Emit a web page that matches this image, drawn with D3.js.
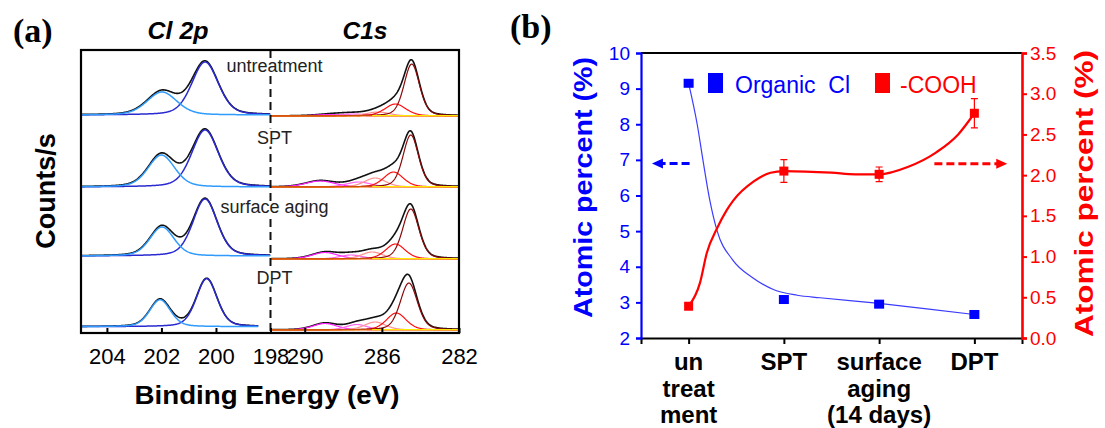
<!DOCTYPE html>
<html lang="en">
<head>
<meta charset="UTF-8">
<title>XPS Cl 2p / C1s and atomic percent</title>
<script src="https://d3js.org/d3.v7.min.js"></script>
<style>
  body { margin: 0; background: #fff; }
  svg { display: block; font-family: "Liberation Sans", Arial, sans-serif; }
</style>
</head>
<body>
<svg width="1105" height="428"></svg>
<script>
// ---------- panel (a): fitted peaks, [centre (eV), height (a.u.), fwhm (eV)] ----------
var samples = ["untreatment", "SPT", "surface aging", "DPT"];
var clOffset = [218, 146, 77, 6.3];   // stacking offset of each spectrum (Cl 2p)
var cOffset  = [217, 146, 74, 3];     // stacking offset of each spectrum (C1s)
var clEnd    = [198, 198, 198, 198.45];
var cl2p32 = [[200.40, 53, 1.15], [200.40, 57, 1.15], [200.40, 57, 1.05], [200.34, 48, 0.9]];
var cl2p12 = [[201.98, 23, 1.3],  [202.00, 32, 1.15], [201.98, 29, 1.05], [202.05, 27, 0.9]];
var c1sCC   = [[284.45, 52, 0.95], [284.50, 52, 0.95], [284.50, 50, 1.0], [284.60, 47, 1.05]];
var c1sCO   = [[285.30, 12, 1.3],  [285.40, 15, 1.2],  [285.30, 15, 1.2], [285.25, 17, 1.2]];
var c1sCOC  = [[286.20, 4, 1.4],   [286.35, 9, 1.3],   [286.50, 7, 1.3],  [286.35, 8, 1.3]];
var c1sCOO  = [[287.50, 2, 1.8],   [287.20, 5, 1.5],   [287.60, 4, 1.4],  [287.30, 5.5, 1.3]];
var c1sCOOH = [[288.60, 1.5, 2.0], [289.20, 6, 1.8],   [288.95, 6.5, 1.6], [288.95, 6.5, 1.5]];
var clTicks = [204, 202, 200, 198];
var cTicks = [290, 286, 282];

// ---------- panel (b) ----------
var categories = [["un", "treat", "ment"], ["SPT"], ["surface", "aging", "(14 days)"], ["DPT"]];
var organicCl = [9.15, 3.08, 2.95, 2.66];
var cooh = [0.39, 2.05, 2.01, 2.76];
var coohErr = [0, 0.14, 0.09, 0.18];
// drawn trend lines as [category position, value]
var clTrend = [[1, 9.15], [1.09, 8.0], [1.15, 7.0], [1.22, 5.9], [1.3, 5.0], [1.46, 4.2], [1.68, 3.68],
               [1.89, 3.36], [2.14, 3.2], [2.38, 3.13], [3, 2.97], [3.5, 2.82], [4, 2.66]];
var coohTrend = [[1, 0.39], [1.12, 0.68], [1.19, 1.04], [1.3, 1.35], [1.4, 1.57], [1.47, 1.69],
                 [1.68, 1.92], [1.86, 2.03], [2, 2.05], [2.5, 2.03], [2.75, 2.01], [3, 2.01],
                 [3.3, 2.1], [3.6, 2.28], [3.83, 2.5], [4, 2.76]];
var leftTicks = d3.range(2, 11, 1);
var rightTicks = d3.range(0, 3.51, 0.5);

var svg = d3.select("svg");
svg.append("rect").attr("width", 1105).attr("height", 428).attr("fill", "#fff");

// pseudo-Voigt line shape for a fitted component
function peak(e, p) {
  var d = (e - p[0]) / p[2];
  return p[1] * (0.3 / (1 + 4 * d * d) + 0.7 * Math.exp(-4 * Math.LN2 * d * d));
}

// ================= panel (a) =================
var xCl = d3.scaleLinear().domain([204.95, 198]).range([81, 270.5]);
var xC = d3.scaleLinear().domain([291.8, 282]).range([270, 459]);
var yA = d3.scaleLinear().domain([0, 283]).range([333, 50]);

var gA = svg.append("g");

samples.forEach(function(s, i) {
  // Cl 2p
  var eCl = d3.range(204.95, clEnd[i] - 0.001, -0.02);
  var lineCl = d3.line().x(function(d) { return xCl(d[0]); }).y(function(d) { return yA(clOffset[i] + d[1]); });
  var env = eCl.map(function(e) { return [e, peak(e, cl2p32[i]) + peak(e, cl2p12[i])]; });
  gA.append("path").attr("d", lineCl(env)).attr("fill", "none").attr("stroke", "#111").attr("stroke-width", 1.6);
  gA.append("path").attr("d", lineCl(eCl.map(function(e) { return [e, peak(e, cl2p32[i])]; })))
    .attr("fill", "none").attr("stroke", "#2a2ad0").attr("stroke-width", 1.5);
  gA.append("path").attr("d", lineCl(eCl.map(function(e) { return [e, peak(e, cl2p12[i])]; })))
    .attr("fill", "none").attr("stroke", "#2f9bff").attr("stroke-width", 1.5);

  // C1s
  var eC = d3.range(291.8, 281.99, -0.02);
  var lineC = d3.line().x(function(d) { return xC(d[0]); }).y(function(d) { return yA(cOffset[i] + d[1]); });
  var comps = [
    [c1sCOOH[i], "#ff22ff"], [c1sCOO[i], "#ff66ee"], [c1sCOC[i], "#ff9090"],
    [c1sCO[i], "#ff1010"], [c1sCC[i], "#8b0a0a"]
  ];
  var envC = eC.map(function(e) {
    return [e, d3.sum(comps, function(c) { return peak(e, c[0]); })];
  });
  gA.append("path").attr("d", lineC(envC)).attr("fill", "none").attr("stroke", "#111").attr("stroke-width", 1.6);
  comps.forEach(function(c) {
    gA.append("path").attr("d", lineC(eC.map(function(e) { return [e, peak(e, c[0])]; })))
      .attr("fill", "none").attr("stroke", c[1]).attr("stroke-width", 1.2);
  });
  gA.append("path").attr("d", lineC([[291.8, 0], [282, 0]]))
    .attr("fill", "none").attr("stroke", "#ff9a00").attr("stroke-width", 1.2);
  gA.append("path").attr("d", lineC([[286.5, 0.4], [282, 0.4]]))
    .attr("fill", "none").attr("stroke", "#ffe800").attr("stroke-width", 1.4);
});

// dashed divider
gA.append("line").attr("x1", xCl(198)).attr("x2", xCl(198)).attr("y1", 50).attr("y2", 333)
  .attr("stroke", "#111").attr("stroke-width", 2).attr("stroke-dasharray", "8,5");

// sample labels
samples.forEach(function(s, i) {
  gA.append("text").attr("x", xCl(198) + 4).attr("y", yA(clOffset[i]) - 43)
    .attr("text-anchor", "middle").attr("font-size", 18).attr("fill", "#222")
    .attr("stroke", "#fff").attr("stroke-width", 5).attr("paint-order", "stroke")
    .text(s);
});

// frame
gA.append("rect").attr("x", 81).attr("y", 50).attr("width", 378).attr("height", 283)
  .attr("fill", "none").attr("stroke", "#000").attr("stroke-width", 2.2);

// bottom axes (inward ticks)
var axCl = gA.append("g").attr("transform", "translate(0,333)")
  .call(d3.axisBottom(xCl).tickValues(clTicks).tickSize(-5).tickPadding(15).tickFormat(d3.format("d")));
var axC = gA.append("g").attr("transform", "translate(0,333)")
  .call(d3.axisBottom(xC).tickValues(cTicks).tickSize(-5).tickPadding(15).tickFormat(d3.format("d")));
[axCl, axC].forEach(function(ax) {
  ax.select(".domain").remove();
  ax.selectAll("line").attr("stroke", "#000").attr("stroke-width", 2);
  ax.selectAll("text").attr("font-size", 22).attr("fill", "#000")
    .attr("font-family", "Liberation Sans, Arial, sans-serif");
});

gA.append("text").attr("x", 13).attr("y", 42).attr("font-family", "Liberation Serif, Times New Roman, serif")
  .attr("font-weight", "bold").attr("font-size", 34).text("(a)");
gA.append("text").attr("x", 178).attr("y", 39).attr("text-anchor", "middle")
  .attr("font-weight", "bold").attr("font-style", "italic").attr("font-size", 23)
  .attr("textLength", 61).attr("lengthAdjust", "spacingAndGlyphs").text("Cl 2p");
gA.append("text").attr("x", 365).attr("y", 39).attr("text-anchor", "middle")
  .attr("font-weight", "bold").attr("font-style", "italic").attr("font-size", 23)
  .attr("textLength", 45).attr("lengthAdjust", "spacingAndGlyphs").text("C1s");
gA.append("text").attr("transform", "translate(55,191) rotate(-90)").attr("text-anchor", "middle")
  .attr("font-weight", "bold").attr("font-size", 27).text("Counts/s");
gA.append("text").attr("x", 267).attr("y", 404).attr("text-anchor", "middle")
  .attr("font-weight", "bold").attr("font-size", 25)
  .attr("textLength", 265).attr("lengthAdjust", "spacingAndGlyphs").text("Binding Energy (eV)");

// ================= panel (b) =================
var xB = d3.scaleLinear().domain([0.5, 4.5]).range([641, 1022]);
var yL = d3.scaleLinear().domain([2, 10]).range([338, 53]);
var yR = d3.scaleLinear().domain([0, 3.5]).range([338, 53]);
var gB = svg.append("g");

// top border and bottom axis
gB.append("line").attr("x1", 641).attr("x2", 1022).attr("y1", 53).attr("y2", 53)
  .attr("stroke", "#000").attr("stroke-width", 2);
var axX = gB.append("g").attr("transform", "translate(0,338)")
  .call(d3.axisBottom(xB).tickValues([1, 2, 3, 4]).tickSize(6).tickFormat(""));
axX.select(".domain").attr("stroke", "#000").attr("stroke-width", 2);
axX.selectAll("line").attr("stroke", "#000").attr("stroke-width", 2);

categories.forEach(function(lines, i) {
  var t = gB.append("text").attr("text-anchor", "middle").attr("font-weight", "bold")
    .attr("font-size", 24).attr("fill", "#000");
  lines.forEach(function(l, j) {
    t.append("tspan").attr("x", xB(i + 1)).attr("y", 370 + j * 26.5).text(l);
  });
});

var axL = gB.append("g").attr("transform", "translate(641,0)")
  .call(d3.axisLeft(yL).tickValues(leftTicks).tickSize(5).tickPadding(6).tickFormat(d3.format("d")));
axL.select(".domain").attr("stroke", "#0000ff").attr("stroke-width", 2.2);
axL.selectAll("line").attr("stroke", "#0000ff").attr("stroke-width", 2);
axL.selectAll("text").attr("fill", "#0000ff").attr("font-size", 19)
  .attr("font-family", "Liberation Sans, Arial, sans-serif");

var axR = gB.append("g").attr("transform", "translate(1022,0)")
  .call(d3.axisRight(yR).tickValues(rightTicks).tickSize(5).tickPadding(3).tickFormat(d3.format(".1f")));
axR.select(".domain").attr("stroke", "#ff0000").attr("stroke-width", 2.6);
axR.selectAll("line").attr("stroke", "#ff0000").attr("stroke-width", 2);
axR.selectAll("text").attr("fill", "#ff0000").attr("font-size", 19)
  .attr("font-family", "Liberation Sans, Arial, sans-serif");

// axis titles
gB.append("text").attr("transform", "translate(592,187.5) rotate(-90)").attr("text-anchor", "middle")
  .attr("font-weight", "bold").attr("font-size", 26).attr("fill", "#0000ff")
  .attr("textLength", 261).attr("lengthAdjust", "spacingAndGlyphs").text("Atomic percent (%)");
gB.append("text").attr("transform", "translate(1093,193.5) rotate(-90)").attr("text-anchor", "middle")
  .attr("font-weight", "bold").attr("font-size", 26).attr("fill", "#ff0000")
  .attr("textLength", 287).attr("lengthAdjust", "spacingAndGlyphs").text("Atomic percent (%)");

// trend lines
gB.append("path")
  .attr("d", d3.line().curve(d3.curveMonotoneX).x(function(d) { return xB(d[0]); }).y(function(d) { return yL(d[1]); })(clTrend))
  .attr("fill", "none").attr("stroke", "#3c3cff").attr("stroke-width", 1.2);
gB.append("path")
  .attr("d", d3.line().curve(d3.curveMonotoneX).x(function(d) { return xB(d[0]); }).y(function(d) { return yR(d[1]); })(coohTrend))
  .attr("fill", "none").attr("stroke", "#ff0000").attr("stroke-width", 2.2);

// error bars
cooh.forEach(function(v, i) {
  if (!coohErr[i]) return;
  var x = xB(i + 1);
  gB.append("path")
    .attr("d", "M" + x + "," + yR(v - coohErr[i]) + "V" + yR(v + coohErr[i]) +
      "M" + (x - 3.5) + "," + yR(v - coohErr[i]) + "H" + (x + 3.5) +
      "M" + (x - 3.5) + "," + yR(v + coohErr[i]) + "H" + (x + 3.5))
    .attr("fill", "none").attr("stroke", "#ff0000").attr("stroke-width", 1.2);
});

// markers
gB.selectAll(".mCl").data(organicCl).enter().append("rect").attr("class", "mCl")
  .attr("x", function(d, i) { return xB(i + 1) - 5; }).attr("y", function(d) { return yL(d) - 4.5; })
  .attr("width", 10).attr("height", 9).attr("fill", "#0000ff");
gB.selectAll(".mCo").data(cooh).enter().append("rect").attr("class", "mCo")
  .attr("x", function(d, i) { return xB(i + 1) - 4.5; }).attr("y", function(d) { return yR(d) - 4.5; })
  .attr("width", 9).attr("height", 9).attr("fill", "#ff0000");

// dashed arrows pointing to each axis
function arrow(x0, x1, y, col) {
  var dir = x1 < x0 ? -1 : 1;
  gB.append("line").attr("x1", x0).attr("x2", x1 - dir * 9).attr("y1", y).attr("y2", y)
    .attr("stroke", col).attr("stroke-width", 3).attr("stroke-dasharray", "8,4");
  gB.append("path").attr("d", "M" + x1 + "," + y + "L" + (x1 - dir * 11) + "," + (y - 5) + "L" + (x1 - dir * 11) + "," + (y + 5) + "Z")
    .attr("fill", col);
}
arrow(xB(1.01), xB(0.615), yL(6.9), "#0000ff");
arrow(xB(3.58), xB(4.345), yR(2.14), "#ff0000");

// legend
gB.append("rect").attr("x", 708).attr("y", 73).attr("width", 15).attr("height", 20).attr("fill", "#0000ff");
gB.append("text").attr("x", 735).attr("y", 93).attr("font-size", 23).attr("fill", "#0000ff")
  .attr("xml:space", "preserve").style("white-space", "pre").text("Organic  Cl");
gB.append("rect").attr("x", 875).attr("y", 73).attr("width", 15).attr("height", 20).attr("fill", "#ff0000");
gB.append("text").attr("x", 900).attr("y", 93).attr("font-size", 23).attr("fill", "#ff0000").text("-COOH");

gB.append("text").attr("x", 510).attr("y", 38).attr("font-family", "Liberation Serif, Times New Roman, serif")
  .attr("font-weight", "bold").attr("font-size", 34).text("(b)");
</script>
</body>
</html>
